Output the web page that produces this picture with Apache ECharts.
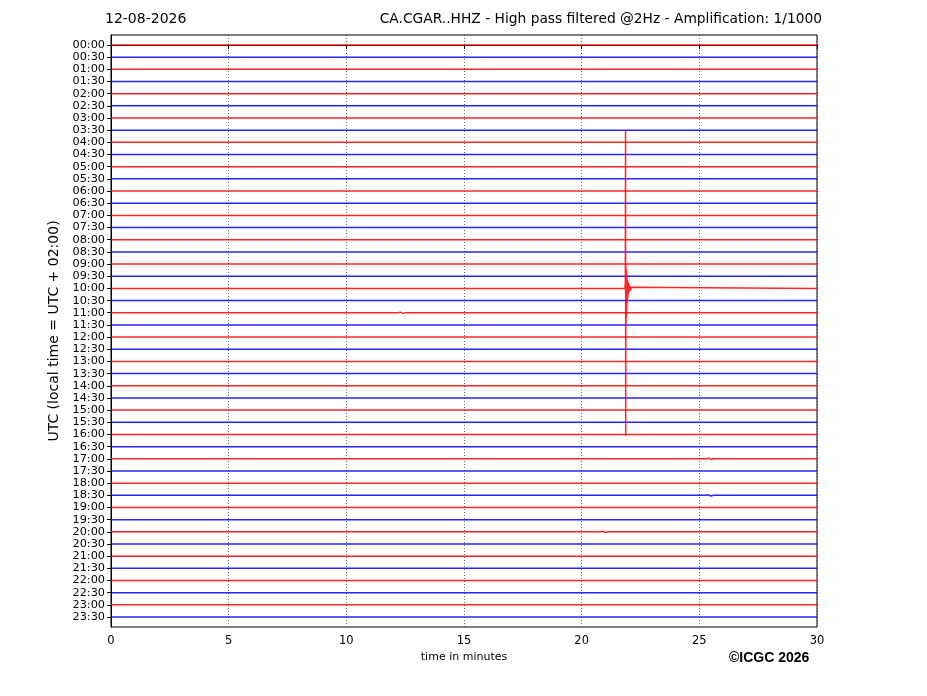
<!DOCTYPE html>
<html>
<head>
<meta charset="utf-8">
<script src="https://cdn.jsdelivr.net/npm/echarts@6/dist/echarts.min.js"></script>
<style>
  html, body { margin: 0; padding: 0; background: #fff; }
  #main { width: 927px; height: 696px; }
</style>
</head>
<body>
<div id="main"></div>
<script>
// row labels (UTC, 30 min per line)
var rowLabels = ['00:00', '00:30', '01:00', '01:30', '02:00', '02:30', '03:00', '03:30',
    '04:00', '04:30', '05:00', '05:30', '06:00', '06:30', '07:00', '07:30',
    '08:00', '08:30', '09:00', '09:30', '10:00', '10:30', '11:00', '11:30',
    '12:00', '12:30', '13:00', '13:30', '14:00', '14:30', '15:00', '15:30',
    '16:00', '16:30', '17:00', '17:30', '18:00', '18:30', '19:00', '19:30',
    '20:00', '20:30', '21:00', '21:30', '22:00', '22:30', '23:00', '23:30'];

var xTicks = [0, 5, 10, 15, 20, 25, 30];

// the event on the 10:00 line: [minute, offset in line units]
var eventRow = '10:00';
var eventTrace = [[21.84, 0], [21.855, -0.6], [21.865, -13.0], [21.872, 12.1], [21.878, -1.8],
    [21.884, 2.8], [21.89, -1.6], [21.897, 2.4], [21.905, -1.4], [21.913, 1.9],
    [21.922, -1.0], [21.932, 1.3], [21.945, -0.7], [21.96, 0.8], [21.98, -0.5],
    [22.0, 0.4], [22.03, -0.3], [22.06, 0.2], [22.1, -0.1], [22.15, 0]];

// small bumps seen on a few lines
var blipRows = ['17:00', '20:00', '18:30', '11:00'];
var blipTraces = [
    [[25.3, 0], [25.4, -0.06], [25.5, 0.06], [25.6, 0]],
    [[20.8, 0], [20.9, -0.06], [21.0, 0.06], [21.1, 0]],
    [[25.2, 0], [25.35, -0.05], [25.5, 0.05], [25.6, 0]],
    [[12.2, 0], [12.3, -0.05], [12.4, 0.05], [12.5, 0]]
];

function rowData(i) {
    var label = rowLabels[i];
    var pts = [[0, i]];
    var extra = [];
    if (label === eventRow) extra = extra.concat(eventTrace);
    var b = blipRows.indexOf(label);
    if (b >= 0) extra = extra.concat(blipTraces[b]);
    extra.sort(function (a, c) { return a[0] - c[0]; });
    extra.forEach(function (p) { pts.push([p[0], i + p[1]]); });
    pts.push([30, i]);
    return pts;
}

var myChart = echarts.init(document.getElementById('main'));

var series = [];
for (var i = 0; i < rowLabels.length; i++) {
    var c = i % 2 === 0 ? '#ff0000' : '#0000ff';
    series.push({
        type: 'line',
        data: rowData(i),
        symbol: 'none',
        silent: true,
        color: c,
        z: rowLabels[i] === eventRow ? 5 : 2,
        itemStyle: { color: c },
        lineStyle: { color: c, width: 1.5, opacity: 0.85 }
    });
}

var rowIdx = rowLabels.map(function (l, k) { return k; });

var option = {
    animation: false,
    textStyle: { fontFamily: 'DejaVu Sans' },
    title: [{
        text: '12-08-2026',
        left: 105,
        top: 12,
        padding: 0,
        textStyle: { fontSize: 14, fontWeight: 'normal', color: '#000', fontFamily: 'DejaVu Sans' }
    }, {
        text: 'CA.CGAR..HHZ - High pass filtered @2Hz - Amplification: 1/1000',
        right: 105,
        top: 12,
        padding: 0,
        textStyle: { fontSize: 13.8, fontWeight: 'normal', color: '#000', fontFamily: 'DejaVu Sans' }
    }],
    grid: {
        left: 111,
        top: 35,
        width: 706,
        height: 592,
        show: true,
        borderColor: '#000',
        borderWidth: 1,
        backgroundColor: 'transparent'
    },
    xAxis: {
        type: 'value',
        min: 0,
        max: 30,
        interval: 5,
        name: 'time in minutes',
        nameLocation: 'middle',
        nameGap: 25,
        nameTextStyle: { fontSize: 11, color: '#000' },
        axisLine: { lineStyle: { color: '#000' } },
        axisTick: { show: true, length: 4, lineStyle: { color: '#000' } },
        axisLabel: {
            fontSize: 11.5, color: '#000', margin: 8,
            customValues: xTicks
        },
        splitLine: { show: true, lineStyle: { type: [1, 2], color: '#444', width: 0.8 } }
    },
    yAxis: {
        type: 'value',
        inverse: true,
        min: -0.82,
        max: 47.82,
        name: 'UTC (local time = UTC + 02:00)',
        nameLocation: 'middle',
        nameGap: 44,
        nameTextStyle: { fontSize: 14, color: '#000' },
        axisLine: { lineStyle: { color: '#000' } },
        axisTick: { show: true, length: 4, customValues: rowIdx, lineStyle: { color: '#000' } },
        axisLabel: {
            fontSize: 11.3, color: '#000', margin: 6,
            customValues: rowIdx,
            formatter: function (v) { return rowLabels[Math.round(v)]; }
        },
        splitLine: { show: false }
    },
    graphic: [{
        type: 'text',
        left: 729,
        top: 651,
        style: {
            text: '\u00a9ICGC 2026',
            font: 'bold 14px "Liberation Sans", Arial, sans-serif',
            fill: '#000'
        }
    }],
    series: series
};

myChart.setOption(option);
</script>
</body>
</html>
